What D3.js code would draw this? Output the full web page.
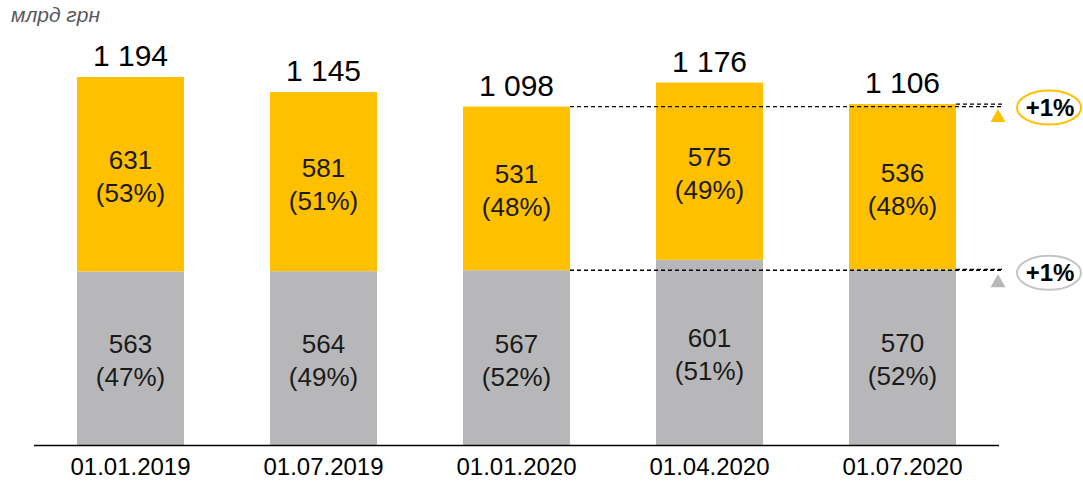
<!DOCTYPE html>
<html>
<head>
<meta charset="utf-8">
<script src="https://cdn.jsdelivr.net/npm/d3@7"></script>
<style>
  body { margin: 0; background: #fff; }
  text { font-family: "Liberation Sans", Arial, sans-serif; }
</style>
</head>
<body>
<div id="chart-area"></div>
<script>
// data
var dates = ["01.01.2019", "01.07.2019", "01.01.2020", "01.04.2020", "01.07.2020"];
var topValues = [631, 581, 531, 575, 536];
var topPct = [53, 51, 48, 49, 48];
var bottomValues = [563, 564, 567, 601, 570];
var bottomPct = [47, 49, 52, 51, 52];
var changeLabels = ["+1%", "+1%"];   // top series, bottom series (01.07.2020 vs 01.01.2020)

var width = 1083, height = 483;
var yellow = "#ffc000", grey = "#b7b7b9";

var svg = d3.select("#chart-area")
    .append("svg")
        .attr("width", width)
        .attr("height", height);

var data = dates.map(function(d, i) {
    return {date: d, top: topValues[i], topPct: topPct[i],
            bottom: bottomValues[i], bottomPct: bottomPct[i],
            total: topValues[i] + bottomValues[i]};
});

var x = d3.scaleBand()
    .domain(dates)
    .range([34, 999])
    .paddingInner(0.4456)
    .paddingOuter(0.2228);

var y = d3.scaleLinear()
    .domain([0, 1194])
    .range([445, 77]);

var fmt = function(v) { return d3.format(",")(v).replace(/,/g, " "); };

// unit label
svg.append("text")
    .attr("x", 11)
    .attr("y", 22)
    .style("font-style", "italic")
    .style("font-size", "21px")
    .style("fill", "#595959")
    .text("млрд грн");

var bars = svg.append("g").attr("class", "bars")
    .selectAll("g")
    .data(data)
    .enter()
    .append("g");

bars.append("rect")
    .attr("x", d => x(d.date))
    .attr("width", x.bandwidth())
    .attr("y", d => y(d.bottom))
    .attr("height", d => y(0) - y(d.bottom))
    .attr("fill", grey);

bars.append("rect")
    .attr("x", d => x(d.date))
    .attr("width", x.bandwidth())
    .attr("y", d => y(d.total))
    .attr("height", d => y(d.bottom) - y(d.total))
    .attr("fill", yellow);

// labels inside segments
function segLabel(sel, mid, val, pct) {
    var t = sel.append("text")
        .attr("text-anchor", "middle")
        .style("font-size", "26px")
        .style("fill", "#1a1a1a");
    t.append("tspan")
        .attr("x", d => x(d.date) + x.bandwidth() / 2)
        .attr("y", d => mid(d) - 16 + 9)
        .text(val);
    t.append("tspan")
        .attr("x", d => x(d.date) + x.bandwidth() / 2)
        .attr("y", d => mid(d) + 17 + 9)
        .text(pct);
}
segLabel(bars, d => (y(d.total) + y(d.bottom)) / 2 + 2, d => d.top, d => "(" + d.topPct + "%)");
segLabel(bars, d => (y(d.bottom) + y(0)) / 2 + 2, d => d.bottom, d => "(" + d.bottomPct + "%)");

// totals
bars.append("text")
    .attr("x", d => x(d.date) + x.bandwidth() / 2)
    .attr("y", d => y(d.total) - 11)
    .attr("text-anchor", "middle")
    .style("font-size", "30px")
    .style("fill", "#000")
    .text(d => fmt(d.total));

// x axis
var xAxis = svg.append("g")
    .attr("class", "x-axis")
    .attr("transform", "translate(0," + y(0) + ")")
    .call(d3.axisBottom(x).tickSize(0).tickPadding(13));
xAxis.select(".domain")
    .attr("stroke", "#000")
    .attr("stroke-width", 1.5)
    .attr("d", "M34,0.5H999");
xAxis.selectAll("text")
    .style("font-family", "'Liberation Sans', Arial, sans-serif")
    .style("font-size", "24px")
    .style("fill", "#000");

// comparison dashes: 01.01.2020 vs 01.07.2020
var a = data[2], b = data[4];
var lineEnd = 1004;
var dashes = svg.append("g").attr("class", "dashes")
    .attr("stroke", "#000")
    .attr("stroke-width", 1.3)
    .attr("stroke-dasharray", "4,3");
[[a, "total"], [b, "total"], [a, "bottom"], [b, "bottom"]].forEach(function(p) {
    dashes.append("line")
        .attr("x1", x(p[0].date) + x.bandwidth())
        .attr("x2", lineEnd)
        .attr("y1", y(p[0][p[1]]))
        .attr("y2", y(p[0][p[1]]));
});

// triangles + ellipses
var marks = [
    {v: b.total, color: yellow, ring: yellow, label: changeLabels[0]},
    {v: b.bottom, color: grey, ring: "#c4c4c4", label: changeLabels[1]}
];
marks.forEach(function(m) {
    var yy = y(m.v);
    var tx = 998, ty = yy + 5;
    svg.append("path")
        .attr("d", "M" + tx + "," + ty + "L" + (tx + 7.5) + "," + (ty + 13) + "L" + (tx - 7.5) + "," + (ty + 13) + "Z")
        .attr("fill", m.color);
    svg.append("ellipse")
        .attr("cx", 1049)
        .attr("cy", yy + 3.5)
        .attr("rx", 32)
        .attr("ry", 17)
        .attr("fill", "none")
        .attr("stroke", m.ring)
        .attr("stroke-width", 2);
    svg.append("text")
        .attr("x", 1050)
        .attr("y", yy + 12)
        .attr("text-anchor", "middle")
        .style("font-size", "24px")
        .style("font-weight", "bold")
        .style("fill", "#000")
        .text(m.label);
});
</script>
</body>
</html>
